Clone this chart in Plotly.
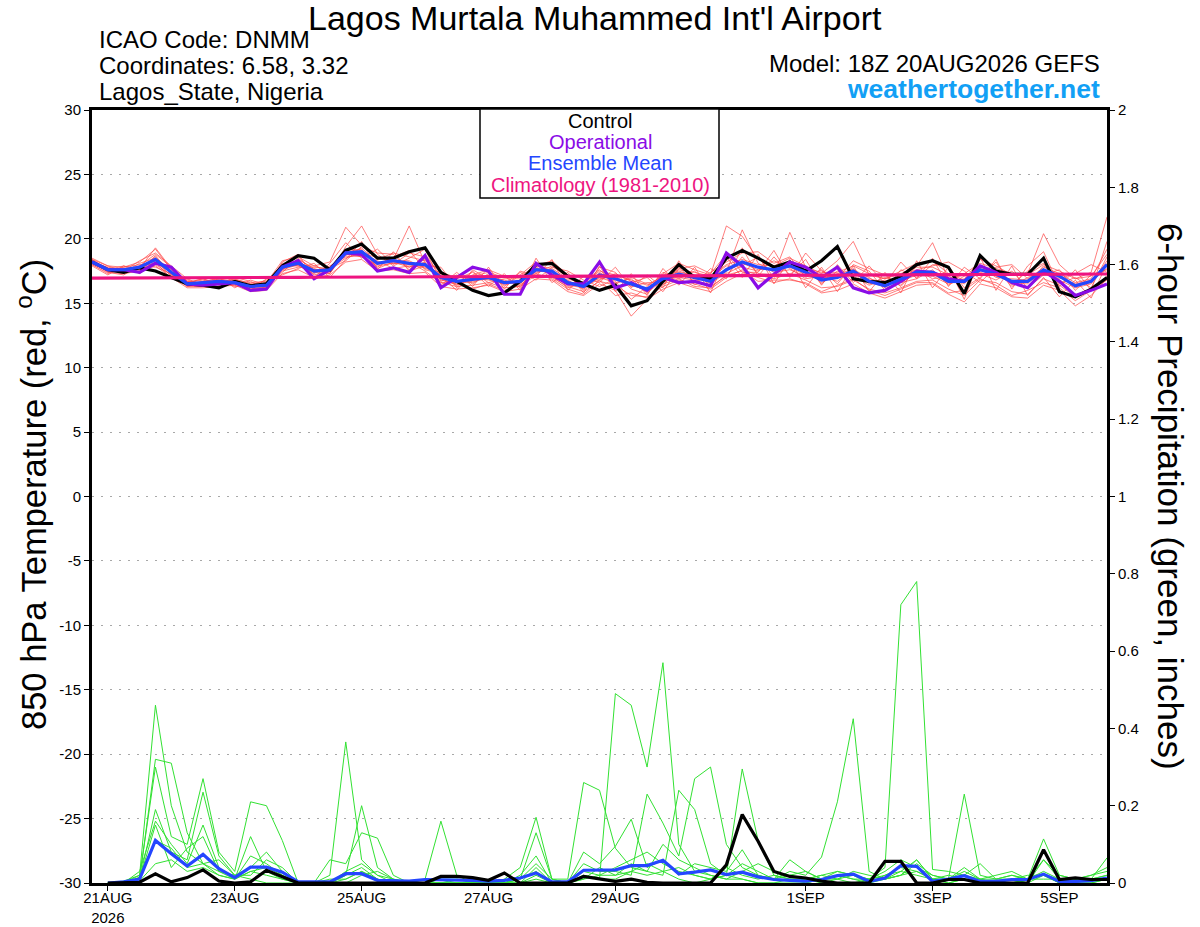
import pandas as pd
import plotly.graph_objects as go

# ---------------- data ----------------
start_time = "2026-08-20 18:00"
n_steps = 65  # 6-hourly, 20AUG 18Z .. 5SEP 18Z

tick_dates = ["2026-08-21", "2026-08-23", "2026-08-25", "2026-08-27",
              "2026-08-29", "2026-09-01", "2026-09-03", "2026-09-05"]
tick_labels = ["21AUG<br>2026", "23AUG", "25AUG", "27AUG", "29AUG", "1SEP", "3SEP", "5SEP"]
temp_tick_vals = [-30, -25, -20, -15, -10, -5, 0, 5, 10, 15, 20, 25, 30]
temp_tick_labels = ["-30", "-25", "-20", "-15", "-10", "-5", "0", "5", "10", "15", "20", "25", "30"]
precip_tick_vals = [0, 0.2, 0.4, 0.6, 0.8, 1.0, 1.2, 1.4, 1.6, 1.8, 2.0]
precip_tick_labels = ["0", "0.2", "0.4", "0.6", "0.8", "1", "1.2", "1.4", "1.6", "1.8", "2"]

control_t = [18.2, 17.6, 17.4, 17.75, 17.5, 17.0, 16.5, 16.4, 16.2, 16.7, 16.35, 16.5, 17.9, 18.7, 18.5, 17.6,
             19.1, 19.6, 18.5, 18.5, 19.0, 19.3, 17.4, 16.7, 16.0, 15.6, 15.8, 16.7, 18.0, 18.1, 17.1, 16.5,
             16.0, 16.4, 14.8, 15.2, 16.7, 18.0, 17.0, 16.9, 18.5, 19.1, 18.5, 17.8, 18.2, 17.5, 18.3, 19.4,
             16.9, 16.7, 16.6, 17.1, 18.0, 18.3, 17.8, 15.75, 18.7, 17.5, 17.25, 17.25, 18.5, 15.9, 15.5, 16.1,
             17.0]
operational_t = [18.2, 17.6, 17.6, 17.4, 18.1, 17.8, 16.5, 16.4, 16.5, 16.6, 16.0, 16.1, 17.8, 18.3, 16.9, 17.6,
                 18.9, 18.8, 17.5, 17.75, 17.4, 18.7, 16.2, 17.0, 17.8, 17.5, 15.7, 15.7, 18.1, 17.2, 16.5, 16.5,
                 18.2, 16.2, 16.6, 16.0, 17.0, 16.6, 16.7, 16.35, 18.9, 17.9, 16.2, 17.25, 18.2, 17.8, 17.0, 17.8,
                 16.2, 15.8, 16.0, 16.7, 17.5, 17.4, 16.9, 16.7, 17.9, 17.4, 16.6, 16.2, 17.5, 16.7, 15.6, 16.0,
                 16.5]
mean_t = [18.2, 17.6, 17.6, 17.8, 18.4, 17.4, 16.5, 16.6, 16.7, 16.6, 16.3, 16.4, 17.8, 18.1, 17.5, 17.6,
          18.9, 19.0, 18.1, 18.3, 18.1, 18.0, 17.0, 16.7, 16.85, 17.0, 16.6, 16.7, 17.6, 17.5, 16.6, 16.3,
          17.2, 16.9, 16.5, 16.1, 16.9, 17.25, 17.0, 16.7, 17.6, 18.2, 17.8, 17.6, 17.9, 17.4, 16.8, 17.0,
          17.5, 16.7, 16.35, 16.9, 17.4, 17.4, 16.7, 16.7, 17.6, 17.25, 16.7, 16.7, 17.6, 17.1, 16.35, 16.7,
          18.0]
climatology_t = [16.95, 16.95, 16.96, 16.96, 16.97, 16.97, 16.98, 16.98, 16.99, 16.99, 17.00, 17.00, 17.01,
                 17.01, 17.02, 17.02, 17.03, 17.03, 17.04, 17.04, 17.05, 17.05, 17.06, 17.06, 17.07, 17.07,
                 17.08, 17.08, 17.09, 17.09, 17.10, 17.10, 17.11, 17.11, 17.12, 17.12, 17.13, 17.13, 17.14,
                 17.14, 17.15, 17.15, 17.16, 17.16, 17.17, 17.17, 17.18, 17.18, 17.19, 17.19, 17.20, 17.20,
                 17.21, 17.21, 17.22, 17.22, 17.23, 17.23, 17.24, 17.24, 17.25, 17.25, 17.26, 17.26, 17.27]

member_t1 = [18.4, 17.9, 17.8, 18.2, 19.2, 17.6, 16.4, 16.7, 16.9, 16.5, 16.2, 16.6, 18.3, 18.6, 17.9, 18.2,
             20.9, 19.5, 18.4, 18.9, 18.6, 18.3, 17.5, 16.4, 17.2, 17.6, 17.1, 16.2, 17.9, 18.3, 17.2, 16.0,
             17.8, 17.4, 16.1, 15.7, 17.3, 18.1, 17.6, 17.2, 21.0, 20.2, 18.4, 17.9, 18.5, 17.9, 17.3, 18.3,
             19.8, 17.2, 16.9, 17.5, 18.1, 18.3, 17.3, 16.8, 18.4, 17.9, 17.2, 17.3, 20.4, 18.0, 16.9, 17.4,
             21.7]
member_t2 = [18.0, 17.4, 17.3, 17.5, 17.9, 17.0, 16.2, 16.2, 16.3, 16.4, 15.9, 16.0, 17.3, 17.6, 17.0, 17.2,
             18.2, 18.4, 17.5, 17.6, 17.3, 17.4, 16.3, 16.1, 16.2, 16.4, 15.9, 16.1, 16.9, 16.8, 15.9, 15.6,
             16.5, 16.0, 14.0, 15.3, 16.1, 16.6, 16.2, 15.9, 16.7, 17.3, 17.0, 16.6, 16.9, 16.5, 15.8, 16.0,
             16.5, 15.8, 15.4, 15.9, 16.4, 16.5, 15.7, 15.1, 16.5, 16.2, 15.5, 15.4, 16.4, 16.0, 14.8, 15.6,
             16.9]
member_t3 = [18.3, 17.7, 17.5, 17.9, 18.8, 17.8, 16.7, 16.4, 16.6, 16.9, 16.5, 16.2, 17.6, 18.4, 17.7, 17.3,
             19.4, 21.0, 18.8, 17.9, 18.5, 19.2, 16.7, 17.2, 16.5, 17.3, 16.3, 17.2, 18.2, 17.1, 16.2, 16.7,
             17.6, 16.5, 17.0, 16.5, 16.4, 17.8, 16.6, 17.4, 18.2, 18.9, 19.0, 18.1, 18.6, 17.0, 17.6, 16.5,
             18.0, 17.5, 16.0, 17.6, 17.0, 18.0, 17.9, 16.2, 17.0, 18.2, 16.4, 17.5, 18.1, 16.5, 17.0, 16.2,
             18.6]
member_t4 = [18.1, 17.5, 17.8, 18.0, 18.0, 17.2, 16.6, 16.9, 16.5, 16.8, 16.6, 16.7, 17.9, 17.9, 17.3, 17.9,
             18.6, 18.7, 17.8, 18.6, 19.1, 17.6, 17.3, 16.9, 17.4, 16.6, 16.9, 16.9, 17.3, 17.9, 17.0, 16.4,
             16.8, 17.3, 16.7, 15.9, 17.4, 16.9, 17.5, 16.3, 17.1, 18.6, 17.3, 17.2, 20.5, 17.8, 16.5, 17.5,
             17.1, 16.4, 16.8, 16.4, 17.9, 19.7, 16.9, 17.2, 17.3, 16.8, 17.5, 16.2, 17.2, 17.6, 16.0, 17.2,
             17.6]
member_t5 = [18.2, 17.8, 17.6, 17.6, 18.6, 17.5, 16.3, 16.6, 16.8, 16.3, 16.4, 16.5, 18.1, 18.2, 17.6, 17.4,
             19.0, 19.2, 17.7, 18.2, 17.8, 18.4, 16.9, 16.4, 16.9, 17.1, 16.8, 16.4, 17.5, 17.4, 16.8, 16.1,
             17.4, 16.7, 15.3, 16.3, 17.2, 17.4, 17.2, 16.5, 17.4, 20.7, 18.1, 17.4, 17.6, 17.1, 16.9, 17.2,
             17.3, 16.9, 16.6, 16.7, 17.2, 17.1, 16.5, 16.9, 17.9, 17.0, 16.9, 16.8, 17.8, 17.3, 16.6, 16.9,
             19.2]
member_t6 = [18.0, 17.3, 17.7, 17.4, 18.3, 17.1, 16.8, 16.5, 16.9, 16.7, 16.1, 16.3, 17.5, 17.8, 17.8, 17.7,
             18.5, 18.9, 18.3, 17.7, 17.9, 17.8, 17.2, 16.6, 17.0, 16.8, 16.5, 16.6, 17.8, 17.3, 16.5, 16.6,
             16.9, 17.1, 16.3, 16.6, 16.6, 17.2, 16.9, 17.0, 17.9, 17.8, 17.5, 18.3, 17.7, 16.9, 17.1, 16.7,
             17.7, 16.5, 17.0, 16.6, 16.9, 17.6, 16.4, 17.1, 17.5, 17.6, 16.3, 17.0, 17.5, 16.8, 16.2, 16.5,
             18.3]
member_t7 = [18.4, 17.6, 17.4, 18.1, 18.5, 17.3, 16.6, 16.8, 16.4, 16.6, 16.4, 16.8, 17.7, 18.0, 17.4, 17.8,
             18.8, 18.6, 18.0, 18.4, 21.0, 18.1, 17.1, 16.8, 16.6, 17.2, 16.4, 16.8, 17.4, 17.6, 16.4, 16.2,
             17.0, 16.6, 16.9, 15.8, 16.8, 17.0, 16.8, 16.8, 17.3, 17.9, 18.6, 17.0, 18.0, 17.6, 16.6, 17.3,
             17.6, 17.0, 16.2, 17.2, 17.6, 16.9, 17.1, 16.5, 17.7, 17.4, 16.6, 16.5, 17.9, 17.0, 16.5, 16.8,
             17.7]
member_t8 = [18.1, 17.7, 17.6, 17.7, 19.3, 17.7, 16.4, 16.3, 16.6, 16.5, 16.3, 16.4, 17.8, 18.3, 17.2, 17.5,
             19.2, 19.1, 18.2, 18.1, 18.0, 17.9, 16.8, 16.5, 16.7, 16.9, 16.7, 16.5, 17.7, 17.5, 16.7, 16.3,
             17.3, 16.8, 16.4, 16.0, 17.0, 17.5, 17.1, 16.6, 17.7, 18.1, 17.6, 17.7, 17.8, 17.2, 17.0, 17.1,
             17.4, 16.6, 16.3, 17.0, 17.5, 17.3, 16.6, 16.6, 17.4, 17.1, 16.8, 16.6, 17.4, 17.2, 16.3, 16.6,
             17.9]
member_t9 = [18.3, 17.5, 17.5, 17.8, 18.1, 17.4, 16.5, 16.7, 16.7, 16.6, 16.2, 16.3, 17.7, 18.2, 17.5, 17.6,
             18.7, 19.3, 18.1, 18.5, 17.8, 18.2, 16.6, 16.3, 16.4, 16.6, 16.2, 16.3, 17.2, 17.0, 16.3, 15.9,
             16.7, 16.4, 15.6, 15.5, 16.3, 16.8, 16.5, 16.1, 17.0, 17.6, 17.2, 16.9, 17.3, 16.8, 16.2, 16.3,
             16.8, 16.1, 15.8, 16.2, 16.7, 16.8, 16.1, 15.6, 16.8, 16.6, 15.9, 15.7, 16.9, 16.4, 15.5, 16.0,
             17.1]
member_t10 = [18.2, 17.6, 17.9, 17.6, 18.4, 17.6, 16.7, 16.5, 16.8, 16.4, 16.5, 16.6, 18.0, 17.9, 17.9, 17.5,
              19.1, 18.8, 18.6, 18.3, 18.3, 17.7, 17.4, 17.0, 17.1, 17.4, 17.0, 17.1, 17.9, 17.7, 16.9, 16.5,
              17.5, 17.2, 16.8, 16.4, 17.1, 17.6, 17.4, 17.1, 18.0, 18.4, 18.0, 17.9, 18.2, 17.7, 17.4, 17.4,
              17.9, 17.3, 16.9, 17.3, 17.8, 17.8, 17.2, 17.3, 18.1, 17.7, 17.3, 17.2, 18.0, 17.5, 16.9, 17.1,
              18.8]
member_t11 = [18.5, 17.9, 17.5, 18.3, 18.9, 17.9, 16.9, 16.4, 16.5, 17.0, 16.7, 16.1, 18.2, 18.8, 17.0, 18.1,
              19.7, 18.5, 19.2, 18.0, 18.9, 18.6, 16.4, 17.4, 16.3, 17.8, 16.1, 17.5, 17.1, 18.4, 16.0, 17.1,
              16.6, 17.8, 16.2, 17.2, 16.2, 18.3, 16.4, 17.7, 16.9, 19.3, 17.1, 18.6, 17.2, 18.4, 16.4, 18.0,
              16.6, 17.9, 16.5, 18.2, 16.9, 18.5, 16.3, 17.8, 16.9, 18.4, 16.1, 17.9, 19.0, 16.3, 17.6, 16.0,
              19.8]
member_t12 = [17.9, 17.2, 17.9, 17.3, 18.2, 16.9, 16.6, 16.9, 16.4, 16.9, 16.0, 16.9, 17.2, 17.7, 18.1, 17.0,
              18.4, 19.8, 17.6, 19.0, 17.5, 17.9, 17.8, 16.2, 17.5, 16.3, 17.3, 16.0, 18.5, 16.6, 17.4, 15.8,
              17.9, 15.9, 17.3, 15.6, 17.7, 16.4, 17.8, 15.8, 18.6, 17.0, 18.8, 16.5, 18.4, 16.2, 17.8, 15.9,
              17.9, 15.9, 17.4, 15.8, 18.3, 16.2, 17.8, 15.3, 18.6, 16.0, 17.9, 15.6, 17.0, 15.5, 16.8, 15.4,
              18.1]
member_t13 = [18.3, 17.4, 17.2, 17.9, 17.8, 17.3, 16.4, 16.6, 17.0, 16.2, 16.8, 16.4, 17.4, 18.5, 17.6, 17.7,
              18.3, 19.4, 18.9, 18.8, 17.6, 18.8, 17.1, 16.0, 17.6, 16.9, 16.5, 17.4, 16.8, 17.8, 17.5, 16.8,
              16.3, 16.9, 16.6, 17.0, 15.9, 17.7, 17.9, 17.3, 18.8, 17.4, 17.4, 19.1, 17.0, 18.9, 17.5, 16.9,
              18.3, 17.7, 17.2, 16.3, 17.6, 17.9, 18.2, 17.5, 16.6, 17.8, 18.0, 16.9, 17.5, 16.9, 17.3, 18.0,
              17.4]
member_t14 = [18.2, 17.7, 17.4, 17.5, 18.7, 17.2, 16.3, 16.3, 16.2, 16.7, 16.1, 16.2, 17.6, 18.0, 17.4, 17.3,
              19.0, 18.6, 17.9, 18.1, 18.2, 17.5, 16.6, 16.6, 16.1, 16.5, 16.0, 16.4, 17.3, 16.9, 16.1, 15.7,
              16.8, 15.6, 15.8, 15.4, 16.5, 16.9, 16.3, 16.2, 17.2, 17.5, 16.7, 16.8, 16.8, 16.6, 15.9, 16.4,
              16.9, 16.0, 15.6, 16.1, 16.6, 16.6, 15.8, 16.0, 16.9, 16.4, 15.6, 16.0, 16.6, 16.2, 15.2, 16.0,
              16.8]

# 6-hour precipitation (inches), valid 21AUG 00Z .. 5SEP 18Z
control_p = [0, 0, 0.002, 0.024, 0.003, 0.014, 0.034, 0.005, 0, 0.003, 0.033, 0.016, 0, 0, 0, 0,
             0, 0, 0, 0, 0, 0.017, 0.017, 0.014, 0.007, 0.026, 0, 0, 0, 0, 0.017, 0.011,
             0.004, 0.01, 0.002, 0, 0, 0, 0, 0.047, 0.177, 0.108, 0.03, 0.017, 0.013, 0.005, 0, 0,
             0, 0.056, 0.056, 0, 0, 0.009, 0.009, 0, 0, 0, 0, 0.086, 0.009, 0.013, 0.009, 0.009]
mean_p = [0, 0.003, 0.01, 0.11, 0.076, 0.044, 0.074, 0.037, 0.014, 0.041, 0.041, 0.028, 0.003, 0.002, 0.003, 0.024,
          0.024, 0.007, 0.005, 0.005, 0.009, 0.009, 0.009, 0.007, 0.005, 0.007, 0.013, 0.026, 0.003, 0.003, 0.033, 0.033,
          0.034, 0.045, 0.045, 0.059, 0.024, 0.028, 0.034, 0.022, 0.028, 0.016, 0.009, 0.007, 0.005, 0.009, 0.019, 0.023,
          0.004, 0.013, 0.045, 0.043, 0.004, 0.01, 0.019, 0.004, 0.004, 0.009, 0.009, 0.023, 0.004, 0.004, 0.006, 0.013]

member_p1 = [0, 0, 0.02, 0.46, 0.20, 0.08, 0.05, 0.02, 0.01, 0.03, 0.02, 0.01, 0, 0, 0, 0.01,
             0.03, 0.01, 0, 0, 0, 0, 0, 0, 0, 0, 0.01, 0.03, 0, 0, 0.02, 0.01,
             0.49, 0.46, 0.30, 0.57, 0.10, 0.03, 0.02, 0.01, 0.01, 0, 0, 0.01, 0, 0.01, 0.02, 0.01,
             0, 0.01, 0.02, 0.03, 0.01, 0, 0.01, 0, 0, 0, 0.01, 0.02, 0, 0, 0, 0.01]
member_p2 = [0, 0, 0.01, 0.32, 0.31, 0.13, 0.05, 0.03, 0.02, 0.01, 0, 0, 0, 0, 0.02, 0.365,
             0.06, 0.02, 0, 0, 0, 0, 0, 0, 0, 0, 0, 0.01, 0, 0, 0.01, 0.02,
             0.02, 0.03, 0.05, 0.03, 0.01, 0, 0.01, 0.02, 0.01, 0, 0, 0, 0, 0.01, 0.03, 0.02,
             0.01, 0.04, 0.72, 0.78, 0.035, 0.03, 0.02, 0.01, 0, 0.01, 0, 0.02, 0.01, 0, 0.01, 0.02]
member_p3 = [0, 0, 0.015, 0.30, 0.12, 0.10, 0.27, 0.08, 0.03, 0.21, 0.20, 0.11, 0, 0, 0, 0.02,
             0.20, 0.04, 0.01, 0, 0, 0, 0, 0, 0, 0.01, 0.04, 0.17, 0.01, 0.01, 0.26, 0.24,
             0.09, 0.04, 0.03, 0.02, 0.24, 0.19, 0.05, 0.02, 0.295, 0.11, 0.02, 0.01, 0.01, 0.02, 0.01, 0.03,
             0.02, 0.01, 0.03, 0.06, 0.01, 0.01, 0.23, 0.02, 0.01, 0.01, 0, 0.06, 0.01, 0.01, 0.02, 0.04]
member_p4 = [0, 0, 0.01, 0.19, 0.08, 0.06, 0.235, 0.07, 0.02, 0.04, 0.08, 0.03, 0, 0, 0.06, 0.05,
             0.13, 0.116, 0.02, 0, 0.01, 0.16, 0.02, 0, 0, 0, 0.01, 0.13, 0.01, 0, 0.05, 0.03,
             0.03, 0.02, 0.23, 0.155, 0.07, 0.27, 0.30, 0.10, 0.04, 0.02, 0.01, 0.03, 0.02, 0.067, 0.21, 0.425,
             0.03, 0.01, 0.02, 0.05, 0.02, 0.01, 0.04, 0.01, 0.02, 0.03, 0.01, 0.114, 0.02, 0.01, 0.01, 0.065]
member_p5 = [0, 0, 0.03, 0.16, 0.10, 0.05, 0.15, 0.04, 0.01, 0.07, 0.05, 0.02, 0, 0, 0, 0.03,
             0.05, 0.02, 0.01, 0, 0, 0.01, 0.01, 0.005, 0, 0, 0.02, 0.07, 0, 0, 0.08, 0.05,
             0.095, 0.165, 0.04, 0.06, 0.02, 0.05, 0.04, 0.03, 0.086, 0.02, 0.01, 0.06, 0.03, 0.01, 0.02, 0.01,
             0.01, 0.03, 0.06, 0.04, 0.02, 0.01, 0.02, 0.05, 0.01, 0.02, 0.01, 0.06, 0.02, 0.01, 0.02, 0.03]
member_p6 = [0, 0.005, 0.02, 0.11, 0.09, 0.04, 0.05, 0.06, 0.02, 0.02, 0.06, 0.04, 0, 0, 0.01, 0.01,
             0.03, 0.01, 0, 0, 0, 0.01, 0, 0, 0, 0, 0.01, 0.05, 0.01, 0, 0.03, 0.02,
             0.04, 0.06, 0.08, 0.05, 0.03, 0.02, 0.01, 0.04, 0.02, 0.01, 0.02, 0.01, 0.01, 0.02, 0.03, 0.02,
             0.01, 0.02, 0.03, 0.02, 0.01, 0.02, 0.01, 0.01, 0.01, 0.02, 0.01, 0.03, 0.01, 0.01, 0.01, 0.02]
member_p7 = [0, 0, 0.01, 0.15, 0.04, 0.09, 0.12, 0.03, 0.01, 0.12, 0.03, 0.01, 0, 0, 0, 0,
             0.02, 0.03, 0.01, 0, 0, 0, 0, 0, 0, 0, 0, 0.02, 0, 0, 0.01, 0.04,
             0.02, 0.05, 0.03, 0.10, 0.06, 0.04, 0.02, 0.01, 0.03, 0.05, 0.03, 0.02, 0.01, 0, 0.01, 0.02,
             0, 0.02, 0.04, 0.03, 0.01, 0, 0.01, 0, 0, 0.01, 0.02, 0.02, 0, 0, 0.01, 0.01]
member_p8 = [0, 0, 0.005, 0.05, 0.06, 0.03, 0.04, 0.02, 0.01, 0.03, 0.04, 0.02, 0, 0, 0, 0.02,
             0.04, 0.01, 0, 0, 0, 0, 0.01, 0, 0, 0, 0, 0.04, 0, 0, 0.02, 0.01,
             0.01, 0.03, 0.02, 0.03, 0.04, 0.02, 0.01, 0.02, 0.05, 0.03, 0.01, 0.02, 0.03, 0.01, 0.01, 0,
             0.01, 0.01, 0.02, 0.06, 0.01, 0.01, 0.03, 0.01, 0, 0, 0.01, 0.01, 0.01, 0, 0, 0.01]

temp_members = [member_t1, member_t2, member_t3, member_t4, member_t5, member_t6, member_t7,
                member_t8, member_t9, member_t10, member_t11, member_t12, member_t13, member_t14]
precip_members = [member_p1, member_p2, member_p3, member_p4,
                  member_p5, member_p6, member_p7, member_p8]

# ---------------- figure ----------------
times = pd.date_range(start_time, periods=n_steps, freq="6h")
ptimes = times[1:]

FONT = "Liberation Sans, Arial, Helvetica, sans-serif"
RED = "rgba(255,70,70,0.7)"
GREEN = "rgb(50,225,50)"
BLACK = "#000000"
PURPLE = "#8A0CE6"
BLUE = "#2446FF"
PINK = "#EE1480"

fig = go.Figure()

for m in temp_members:
    fig.add_trace(go.Scatter(x=times, y=m, mode="lines", line=dict(color=RED, width=1),
                             yaxis="y", showlegend=False, hoverinfo="skip"))
for m in precip_members:
    fig.add_trace(go.Scatter(x=ptimes, y=m, mode="lines", line=dict(color=GREEN, width=1),
                             yaxis="y2", showlegend=False, hoverinfo="skip"))

fig.add_trace(go.Scatter(x=ptimes, y=mean_p, mode="lines", line=dict(color=BLUE, width=3.2),
                         yaxis="y2", showlegend=False))
fig.add_trace(go.Scatter(x=ptimes, y=control_p, mode="lines", line=dict(color=BLACK, width=3.2),
                         yaxis="y2", showlegend=False))

fig.add_trace(go.Scatter(x=times, y=control_t, mode="lines", line=dict(color=BLACK, width=3.2),
                         yaxis="y", showlegend=False))
fig.add_trace(go.Scatter(x=times, y=operational_t, mode="lines", line=dict(color=PURPLE, width=3.2),
                         yaxis="y", showlegend=False))
fig.add_trace(go.Scatter(x=times, y=mean_t, mode="lines", line=dict(color=BLUE, width=3.2),
                         yaxis="y", showlegend=False))
fig.add_trace(go.Scatter(x=times, y=climatology_t, mode="lines", line=dict(color=PINK, width=3.2),
                         yaxis="y", showlegend=False))

fig.update_layout(
    width=1200, height=927,
    margin=dict(l=92, r=93, t=110, b=44, autoexpand=False),
    paper_bgcolor="white", plot_bgcolor="white",
    font=dict(family=FONT, color="black", size=15),
    showlegend=False,
    xaxis=dict(
        type="date", range=[times[0], times[-1]],
        tickvals=tick_dates, ticktext=tick_labels,
        showgrid=False, zeroline=False,
        showline=True, linecolor="black", linewidth=3, mirror=True,
        ticks="outside", ticklen=5, tickcolor="black", tickwidth=1,
        tickfont=dict(size=15), automargin=False, ticklabelstandoff=-6,
    ),
    yaxis=dict(
        range=[-30, 30], tickvals=temp_tick_vals, ticktext=temp_tick_labels,
        showgrid=True, gridcolor="#A8A8A8", griddash="2px,7px", gridwidth=1.2,
        zeroline=False, showline=True, linecolor="black", linewidth=3,
        ticks="outside", ticklen=5, tickcolor="black",
        tickfont=dict(size=15), automargin=False,
    ),
    yaxis2=dict(
        range=[0, 2], tickvals=precip_tick_vals, ticktext=precip_tick_labels,
        overlaying="y", side="right",
        showgrid=False, zeroline=False, showline=True, linecolor="black", linewidth=3,
        ticks="outside", ticklen=5, tickcolor="black",
        tickfont=dict(size=15), automargin=False,
    ),
)

def px_x(px):
    return (px - 92) / 1015.0

def px_y(py):
    return (883 - py) / 773.0

ann = []
ann.append(dict(text="Lagos Murtala Muhammed Int'l Airport", x=px_x(595), y=px_y(18),
                xanchor="center", yanchor="middle", font=dict(size=34)))
ann.append(dict(text="ICAO Code: DNMM", x=px_x(97), y=px_y(40), xanchor="left", yanchor="middle",
                font=dict(size=24)))
ann.append(dict(text="Coordinates: 6.58, 3.32", x=px_x(97), y=px_y(66), xanchor="left", yanchor="middle",
                font=dict(size=24)))
ann.append(dict(text="Lagos_State, Nigeria", x=px_x(97), y=px_y(92), xanchor="left", yanchor="middle",
                font=dict(size=24)))
ann.append(dict(text="Model: 18Z 20AUG2026 GEFS", x=px_x(1102), y=px_y(63), xanchor="right",
                yanchor="middle", font=dict(size=24)))
ann.append(dict(text="<b>weathertogether.net</b>", x=px_x(1102), y=px_y(89), xanchor="right",
                yanchor="middle", font=dict(size=26.5, color="#12A0F5")))
ann.append(dict(text="850 hPa Temperature (red, <sup>o</sup>C)", x=px_x(31), y=px_y(495), textangle=-90,
                xanchor="center", yanchor="middle", font=dict(size=34.5)))
ann.append(dict(text="6-hour Precipitation (green, inches)", x=px_x(1171), y=px_y(496), textangle=90,
                xanchor="center", yanchor="middle", font=dict(size=35)))
for txt, col, py in [("Control", BLACK, 121), ("Operational", PURPLE, 142),
                     ("Ensemble Mean", BLUE, 163), ("Climatology (1981-2010)", PINK, 185)]:
    ann.append(dict(text=txt, x=px_x(600), y=px_y(py), xanchor="center", yanchor="middle",
                    font=dict(size=20, color=col)))
for a in ann:
    a.update(xref="paper", yref="paper", showarrow=False)
fig.update_layout(annotations=ann)

fig.add_shape(type="rect", xref="paper", yref="paper",
              x0=px_x(480), x1=px_x(719), y0=px_y(198), y1=px_y(109),
              line=dict(color="black", width=1.5), fillcolor="white", layer="above")

fig.write_html("out.html", config={"displayModeBar": False},
               post_script="document.body.style.margin='0px';document.body.style.padding='0px';")
